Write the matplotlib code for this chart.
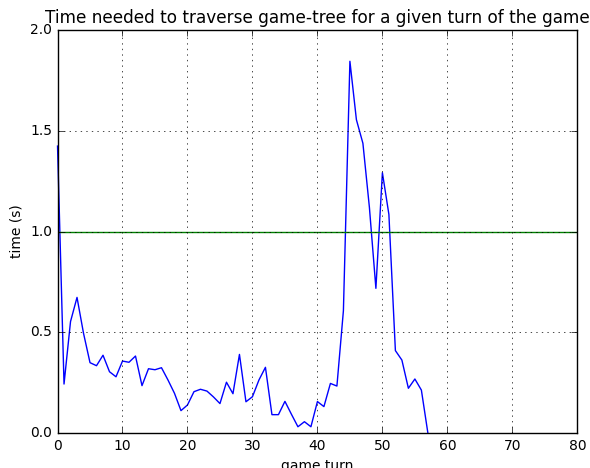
import matplotlib
matplotlib.use("Agg")
import matplotlib.pyplot as plt

plt.style.use("classic")

# seconds spent traversing the game tree at each turn
turns = list(range(58))
times = [
    1.424, 0.243, 0.553, 0.673, 0.495, 0.349, 0.334, 0.386, 0.304, 0.279,
    0.357, 0.351, 0.382, 0.235, 0.319, 0.314, 0.324, 0.263, 0.197, 0.111,
    0.139, 0.205, 0.217, 0.208, 0.179, 0.146, 0.252, 0.195, 0.390, 0.155,
    0.180, 0.263, 0.326, 0.091, 0.091, 0.157, 0.093, 0.031, 0.056, 0.031,
    0.156, 0.131, 0.246, 0.233, 0.607, 1.845, 1.555, 1.438, 1.120, 0.718,
    1.292, 1.085, 0.409, 0.362, 0.222, 0.268, 0.213, 0.0,
]
limit = 1.0

fig = plt.figure(figsize=(5.9, 4.68), dpi=100)
ax = fig.add_axes([0.0975, 0.0748, 0.881, 0.861])

ax.plot(turns, times, color="b", linewidth=1.0, clip_on=False)
ax.axhline(limit, color="g", linewidth=1.0)

ax.set_xlim(0, 80)
ax.set_ylim(0, 2.0)
ax.set_xticks(range(0, 81, 10))
ax.set_yticks([0.0, 0.5, 1.0, 1.5, 2.0])
ax.set_yticklabels(["0.0", "0.5", "1.0", "1.5", "2.0"])
ax.tick_params(labelsize=10)
ax.grid(True)

ax.set_title("Time needed to traverse game-tree for a given turn of the game", fontsize=12.2)
ax.set_xlabel("game turn", fontsize=10)
ax.set_ylabel("time (s)", fontsize=10)

fig.savefig("out.png", dpi=100)
